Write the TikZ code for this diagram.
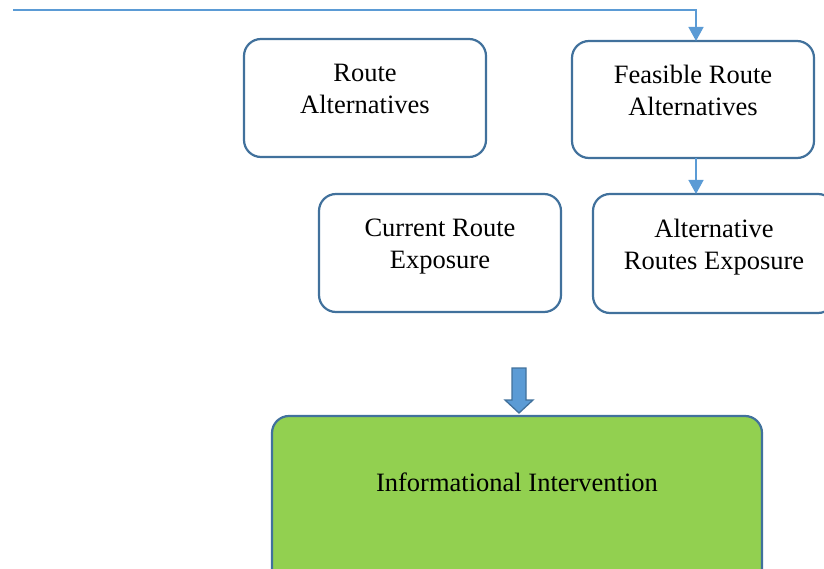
\documentclass[tikz,border=0pt]{standalone}
\usepackage{fontspec}
\setmainfont{Liberation Serif}
\usetikzlibrary{arrows.meta}
\definecolor{boxline}{HTML}{41719C}
\definecolor{conn}{HTML}{5B9BD5}
\definecolor{greenfill}{HTML}{92D050}
\begin{document}
\begin{tikzpicture}[x=1pt,y=-1pt,
  box/.style={draw=boxline,line width=2.2pt,rounded corners=17pt,fill=white},
  lbl/.style={align=center,font=\fontsize{26.5}{32}\selectfont,inner sep=0pt},
  connector/.style={draw=conn,line width=1.4pt,-{Triangle[length=14pt,width=15pt]}}]
\useasboundingbox (0,0) rectangle (824,569);
\clip (0,0) rectangle (824,569);
% boxes
\draw[box] (244,39) rectangle (486,157);
\draw[box] (572,41) rectangle (814,158);
\coordinate (fratop) at (696,41);
\coordinate (frabot) at (696,158);
\draw[box] (319,194) rectangle (561,312);
\draw[box] (593,194) rectangle (835,313);
\coordinate (artop) at (696,194);
\draw[box,fill=greenfill] (272,416) rectangle (762,600);
% texts
\node[lbl] (t1) at (365,89) {Route\\Alternatives};
\node[lbl] (t2) at (693,90) {Feasible Route\\Alternatives};
\node[lbl] (t3) at (440,247) {Current Route\\Exposure};
\node[lbl] (t4) at (714,247) {Alternative\\Routes Exposure};
\node[lbl] (t5) at (517,482) {Informational Intervention};
% connectors
\coordinate (start) at (13,10);
\draw[connector] (start) -| (fratop);
\draw[connector] (frabot) -- (artop);
% block arrow
\draw[draw=boxline,fill=conn,line width=1.3pt,line join=miter]
  (512,368) -- (526,368) -- (526,400) -- (533,400) -- (519,413)
  -- (505,400) -- (512,400) -- cycle;
\end{tikzpicture}
\end{document}
